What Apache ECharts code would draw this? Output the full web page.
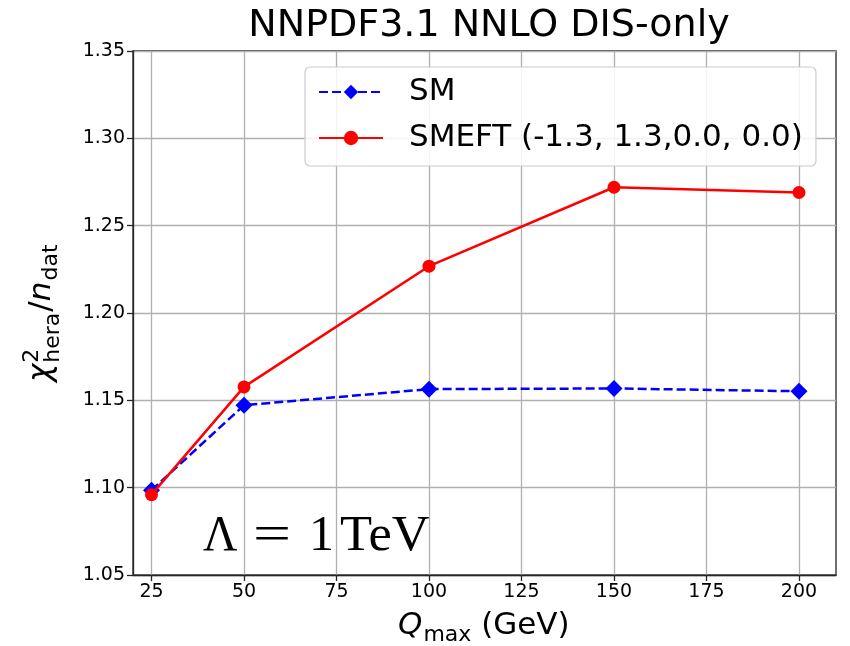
<!DOCTYPE html>
<html><head><meta charset="utf-8">
<script src="https://cdn.jsdelivr.net/npm/echarts@6/dist/echarts.min.js"></script>
<style>html,body{margin:0;padding:0;background:#fff}#c{width:850px;height:646px}</style>
</head><body><div id="c"></div>
<script>
// ---- data ----
const qmax = [25, 50, 100, 150, 200];
const smValues = [1.0985, 1.1472, 1.1564, 1.1568, 1.1552];
const smeftValues = [1.0960, 1.1577, 1.2268, 1.2720, 1.2690];
const xTickValues = [25, 50, 75, 100, 125, 150, 175, 200];
const seriesNames = ['SM', 'SMEFT (-1.3, 1.3,0.0, 0.0)'];
const titleText = 'NNPDF3.1 NNLO DIS-only';
const lambdaParts = ['\u039B', '=', '1', 'TeV'];

// ---- helpers ----
const FONT = '"DejaVu Sans", sans-serif';
const mctx = document.createElement('canvas').getContext('2d');
function tw(text, font) { mctx.font = font; return mctx.measureText(text).width; }
function tok(text, x, baseline, size, italic, family) {
  const fam = family || FONT;
  const font = (italic ? 'italic ' : '') + size + 'px ' + fam;
  return { type: 'text', x: x, y: baseline - 0.33 * size, silent: true,
    style: { text: text, font: font, fill: '#000', align: 'left', verticalAlign: 'middle' } };
}

// y-axis label: chi^2_hera / n_dat  (laid out along local x, then rotated)
function yLabelChildren() {
  const F = 31, f = 22;
  const c = [];
  let x = 0;
  const wChi = tw('\u03C7', 'italic ' + F + 'px ' + FONT);
  c.push(tok('\u03C7', x, 0, F, true));
  x += wChi + 1;
  c.push(tok('2', x, -12, f, false));
  c.push(tok('hera', x, 9, f, false));
  x += Math.max(tw('2', f + 'px ' + FONT), tw('hera', f + 'px ' + FONT)) + 1;
  c.push(tok('/', x, 0, F, false));
  x += tw('/', F + 'px ' + FONT);
  c.push(tok('n', x, 0, F, true));
  x += tw('n', 'italic ' + F + 'px ' + FONT) + 1;
  c.push(tok('dat', x, 7, f, false));
  return c;
}
function xLabelChildren() {
  const F = 31, f = 22;
  const c = [];
  let x = 0;
  c.push(tok('Q', x, 0, F, true));
  x += tw('Q', 'italic ' + F + 'px ' + FONT) + 1;
  c.push(tok('max', x, 7, f, false));
  x += tw('max', f + 'px ' + FONT);
  c.push(tok(' (GeV)', x, 0, F, false));
  return c;
}
function lambdaChildren() {
  const S = 50, fam = '"Liberation Serif", "DejaVu Serif", serif';
  const xs = [203, 253, 309, 340];
  const sx = [0.95, 1.35, 1, 1.05];
  return lambdaParts.map((p, i) => ({
    type: 'group', x: xs[i], y: 0, scaleX: sx[i],
    children: [tok(p, 0, 553, S, false, fam)]
  }));
}

const chart = echarts.init(document.getElementById('c'), null, { renderer: 'canvas' });
const axisColor = '#262626';
const gridColor = '#b0b0b0';

chart.setOption({
  animation: false,
  backgroundColor: '#fff',
  title: {
    text: titleText, left: 484, top: 2, textAlign: 'center',
    textStyle: { fontFamily: FONT, fontSize: 38, fontWeight: 'normal', color: '#000' }
  },
  grid: { left: 133, right: 14, top: 51, bottom: 71, show: true, borderColor: axisColor, borderWidth: 1.3, backgroundColor: 'transparent' },
  legend: {
    orient: 'vertical', left: 305, top: 67,
    padding: [7, 13, 10, 13], itemGap: 10,
    itemWidth: 64, itemHeight: 18,
    backgroundColor: 'rgba(255,255,255,0.85)', borderColor: '#cccccc', borderWidth: 1.2, borderRadius: 5,
    textStyle: { fontFamily: FONT, fontSize: 31, color: '#000', lineHeight: 36, padding: [0, 0, 0, 21] },
    data: seriesNames
  },
  xAxis: {
    type: 'value', min: 20, max: 210,
    axisLine: { show: true, onZero: false, lineStyle: { color: axisColor, width: 1.3 } },
    axisTick: { show: true, length: 6, customValues: xTickValues, lineStyle: { color: axisColor, width: 1.3 } },
    axisLabel: { customValues: xTickValues, fontFamily: FONT, fontSize: 19, color: '#000', margin: 8 },
    splitLine: { show: true, lineStyle: { color: gridColor, width: 1.3 } }
  },
  yAxis: {
    type: 'value', min: 1.05, max: 1.35, interval: 0.05,
    axisLine: { show: true, lineStyle: { color: axisColor, width: 1.3 } },
    axisTick: { show: true, length: 6, lineStyle: { color: axisColor, width: 1.3 } },
    axisLabel: { fontFamily: FONT, fontSize: 19, color: '#000', margin: 8, formatter: v => v.toFixed(2) },
    splitLine: { show: true, lineStyle: { color: gridColor, width: 1.3 } }
  },
  graphic: [
    { type: 'group', x: 52, y: 382, rotation: Math.PI / 2, children: yLabelChildren() },
    { type: 'group', x: 398, y: 636, children: xLabelChildren() },
    { type: 'group', x: 0, y: 0, children: lambdaChildren() }
  ],
  series: [
    {
      name: seriesNames[0], type: 'line', data: qmax.map((q, i) => [q, smValues[i]]),
      symbol: 'diamond', symbolSize: [17, 17], color: '#0000ff',
      lineStyle: { color: '#0000ff', width: 2.5, type: [9, 4] },
      itemStyle: { color: '#0000ff' }, z: 3
    },
    {
      name: seriesNames[1], type: 'line', data: qmax.map((q, i) => [q, smeftValues[i]]),
      symbol: 'circle', symbolSize: 13, color: '#ff0000',
      lineStyle: { color: '#ff0000', width: 2.5 },
      itemStyle: { color: '#ff0000' }, z: 4
    }
  ]
});
</script></body></html>
